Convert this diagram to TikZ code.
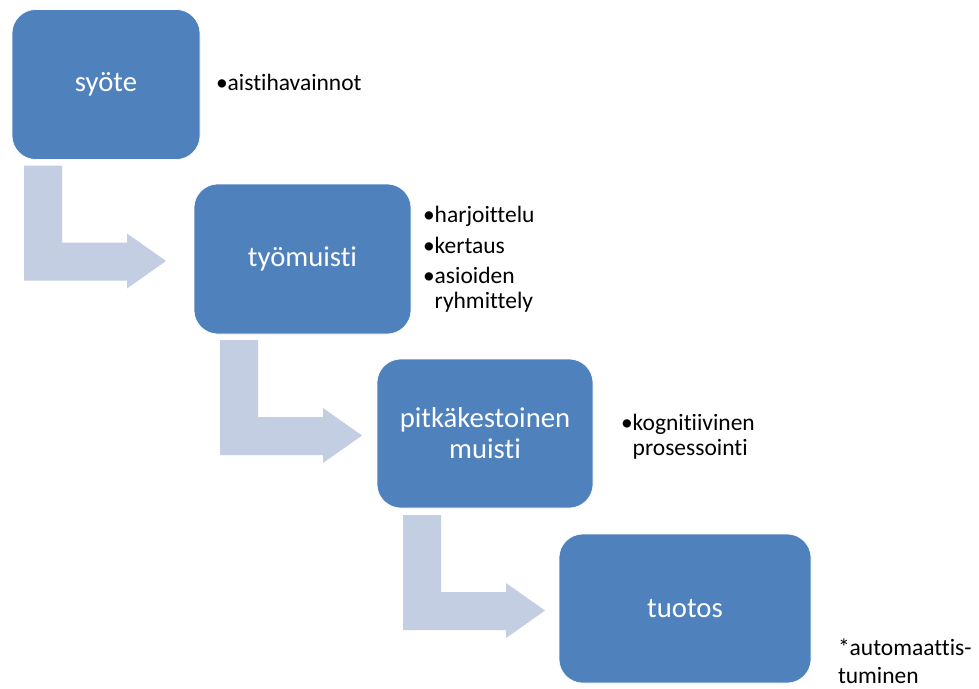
\documentclass[tikz,border=0pt]{standalone}
\usepackage{fontspec}
\setmainfont{Carlito}[Ligatures={NoCommon,NoRequired,NoContextual}]
\definecolor{boxblue}{RGB}{79,129,189}
\definecolor{arrowfill}{RGB}{195,206,227}
\begin{document}
\begin{tikzpicture}[x=1pt,y=-1pt,
  stage/.style={fill=boxblue, draw=white, line width=0.6pt, rounded corners=24pt,
    inner sep=0pt, outer sep=0pt, text=white, align=center,
    font=\fontsize{28.7}{31}\selectfont},
  note/.style={anchor=base west, inner sep=0pt, outer sep=0pt,
    font=\fontsize{23.5}{25.5}\selectfont},
  bentarrow/.pic={\fill[arrowfill] (0,0) -- (38,0) -- (38,77) -- (103,77) -- (103,68)
    -- (142,95.5) -- (103,123) -- (103,115) -- (0,115) -- cycle;}
]
\useasboundingbox (0,0) rectangle (979,688);
\fill[white] (0,0) rectangle (979,688);

\node[stage, minimum width=188pt, minimum height=150pt] (b1) at (106,84.5) {syöte};
\node[stage, minimum width=217pt, minimum height=150pt] (b2) at (302.5,259) {työmuisti};
\node[stage, minimum width=216pt, minimum height=149pt] (b3) at (485,433.5) {pitkäkestoinen\\muisti};
\node[stage, minimum width=252pt, minimum height=149pt] (b4) at (685,608.5) {tuotos};

\pic at ([shift={(12,6)}]b1.south west) {bentarrow};
\pic at ([shift={(26,6)}]b2.south west) {bentarrow};
\pic at ([shift={(26,7)}]b3.south west) {bentarrow};

\node[note] (n1) at (216,90) {•aistihavainnot};
\node[note] (n2) at (423,222) {•harjoittelu};
\node[note] (n3) at (423,253) {•kertaus};
\node[note] (n4) at (423,283) {•asioiden};
\node[note] (n5) at (423,308) {\phantom{•}ryhmittely};
\node[note] (n6) at (621,430) {•kognitiivinen};
\node[note] (n7) at (621,455) {\phantom{•}prosessointi};
\node[note] (n8) at (838,655) {*automaattis-};
\node[note] (n9) at (838,683) {tuminen};
\end{tikzpicture}
\end{document}
